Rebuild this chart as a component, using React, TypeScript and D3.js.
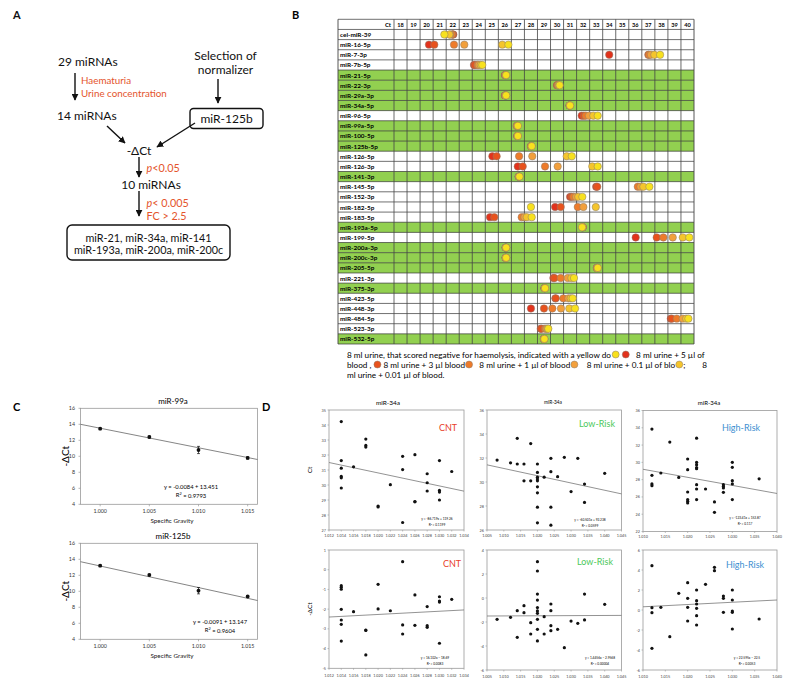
import React from 'react';
import * as d3 from 'd3';

const SANS = "Lato, 'Open Sans', 'DejaVu Sans', sans-serif";
const W = 796;
const H = 689;

// ---------------- Panel A data ----------------
const flowNodes = ['29 miRNAs', '14 miRNAs', '-ΔCt', '10 miRNAs'];
const filterStep1 = ['Haematuria', 'Urine concentration'];
const filterStep2 = ['p<0.05'];
const filterStep3 = ['p< 0.005', 'FC > 2.5'];
const normalizerHeading = ['Selection of', 'normalizer'];
const normalizerName = 'miR-125b';
const finalMirnas = ['miR-21, miR-34a, miR-141', 'miR-193a, miR-200a, miR-200c'];

// ---------------- Panel B data ----------------
const ctTicks = [18, 19, 20, 21, 22, 23, 24, 25, 26, 27, 28, 29, 30, 31, 32, 33, 34, 35, 36, 37, 38, 39, 40];
const mirnas = [
  'cel-miR-39', 'miR-16-5p', 'miR-7-3p', 'miR-7b-5p', 'miR-21-5p', 'miR-22-3p', 'miR-29a-3p', 'miR-34a-5p',
  'miR-96-5p', 'miR-99a-5p', 'miR-100-5p', 'miR-125b-5p', 'miR-126-5p', 'miR-126-3p', 'miR-141-3p', 'miR-145-5p',
  'miR-152-3p', 'miR-182-5p', 'miR-183-5p', 'miR-193a-5p', 'miR-199-5p', 'miR-200a-3p', 'miR-200c-3p', 'miR-205-5p',
  'miR-221-3p', 'miR-375-3p', 'miR-423-5p', 'miR-448-3p', 'miR-484-5p', 'miR-523-3p', 'miR-532-5p',
];
const stableMirnas = [
  'miR-21-5p', 'miR-22-3p', 'miR-29a-3p', 'miR-34a-5p', 'miR-99a-5p', 'miR-100-5p', 'miR-125b-5p', 'miR-141-3p',
  'miR-193a-5p', 'miR-200a-3p', 'miR-200c-3p', 'miR-205-5p', 'miR-375-3p', 'miR-532-5p',
];
// order: 5 µl, 3 µl, 1 µl, 0.1 µl, 0.01 µl blood, negative urine
const bloodConditions = ['5 µl', '3 µl', '1 µl', '0.1 µl', '0.01 µl', 'negative'];
const conditionColors = ['#e2321c', '#e8521d', '#ee7b2a', '#f2a03c', '#f5c52c', '#f8e11e'];
const ctByMirna = [
  [22.05, 22.0, 21.95, 21.8, 21.74, 21.36],
  [20.18, 20.59, 22.1, 22.89, 25.8, 26.27],
  [34.0, 37.0, 37.05, 37.2, 37.46, 37.9],
  [23.63, 23.7, 23.9, 24.0, 24.15, 24.27],
  [26.0, 26.02, 26.04, 26.06, 26.08, 26.1],
  [30.0, 30.02, 30.05, 30.1, 30.15, 30.2],
  [26.0, 26.02, 26.04, 26.06, 26.08, 26.1],
  [30.95, 30.96, 30.97, 30.98, 30.99, 31.0],
  [31.89, 32.05, 32.2, 32.45, 32.78, 33.12],
  [26.95, 26.95, 26.9, 26.95, 26.97, 27.0],
  [26.95, 26.96, 26.97, 26.98, 26.99, 27.0],
  [28.0, 28.01, 28.02, 28.03, 28.04, 28.06],
  [25.04, 25.37, 27.09, 28.1, 30.74, 31.13],
  [26.99, 27.37, 29.08, 30.05, 32.7, 33.12],
  [27.05, 27.06, 27.07, 27.08, 27.1, 27.12],
  [33.0, 33.08, 36.19, 36.4, 36.62, 37.08],
  [31.0, 31.1, 31.25, 31.45, 31.63, 31.94],
  [29.85, 30.28, 31.59, 32.02, 32.97, 28.0],
  [24.86, 25.19, 27.29, 27.5, 27.68, 28.06],
  [31.97, 31.97, 31.96, 31.95, 31.94, 31.92],
  [36.03, 37.64, 38.15, 38.87, 39.64, 40.14],
  [26.05, 26.06, 26.07, 26.08, 26.09, 26.1],
  [26.05, 26.06, 26.07, 26.08, 26.09, 26.1],
  [33.05, 33.06, 33.07, 33.08, 33.1, 33.12],
  [29.72, 29.8, 30.28, 30.82, 31.1, 31.3],
  [29.03, 29.04, 29.05, 29.06, 29.07, 29.08],
  [29.87, 29.9, 30.48, 30.87, 31.05, 31.2],
  [28.0, 29.0, 29.64, 30.3, 30.94, 31.38],
  [38.72, 38.8, 39.18, 39.64, 39.9, 40.07],
  [28.75, 28.8, 29.08, 29.2, 29.3, 29.33],
  [28.98, 28.99, 29.0, 29.01, 29.02, 29.03],
];
// legend: strings are text, numbers are condition colour indices
const legendLines: (string | number)[][] = [
  ['8 ml urine, that scored negative for haemolysis, indicated with a yellow do', 5, ' ', 0, '   8 ml urine + 5 µl of'],
  ['blood , ', 1, ' 8 ml urine + 3 µl blood', 2, '   8 ml urine + 1 µl of blood', 3, '    8 ml urine + 0.1 µl of blo', 4, ';        8'],
  ['ml urine + 0.01 µl of blood.'],
];

// ---------------- Panel C data ----------------
const sgLevels = [1.0, 1.005, 1.01, 1.015];
const cYTicks = [4, 6, 8, 10, 12, 14, 16];
const mir99aDct = [13.45, 12.41, 10.79, 9.8];
const mir99aErr = [0.12, 0.12, 0.45, 0.15];
const mir99aTrend = [[0.998, 14.0], [1.016, 9.6]];
const mir125bDct = [13.2, 12.04, 10.08, 9.35];
const mir125bErr = [0.12, 0.1, 0.4, 0.12];
const mir125bTrend = [[0.998, 13.7], [1.016, 8.85]];

// ---------------- Panel D data ----------------
const cntXTicks = [1.012, 1.014, 1.016, 1.018, 1.02, 1.022, 1.024, 1.026, 1.028, 1.03, 1.032, 1.034];
const lowXTicks = [1.005, 1.01, 1.015, 1.02, 1.025, 1.03, 1.035, 1.04, 1.045];
const highXTicks = [1.01, 1.015, 1.02, 1.025, 1.03, 1.035, 1.04];
const cntCtTicks = [27, 28, 29, 30, 31, 32, 33, 34, 35];
const lowCtTicks = [26, 28, 30, 32, 34, 36];
const highCtTicks = [22, 24, 26, 28, 30, 32, 34, 36];
const cntDctTicks = [-5, -4, -3, -2, -1, 0, 1];
const lowDctTicks = [-6, -4, -2, 0, 2, 4];
const highDctTicks = [-6, -4, -2, 0, 2, 4, 6];

const cntCt = [
  [1.014, 34.23], [1.014, 31.63], [1.014, 31.12], [1.014, 30.57], [1.014, 30.48], [1.014, 29.8],
  [1.016, 31.21], [1.018, 33.06], [1.018, 32.64], [1.018, 32.53], [1.02, 28.6], [1.02, 28.54],
  [1.022, 30.02], [1.024, 31.91], [1.024, 31.03], [1.024, 27.5], [1.026, 32.02], [1.026, 28.9],
  [1.026, 28.88], [1.028, 30.75], [1.028, 30.15], [1.028, 29.6], [1.03, 31.63], [1.03, 29.64],
  [1.03, 29.53], [1.03, 29.0], [1.032, 30.9],
];
const lowCt = [
  [1.008, 31.83], [1.012, 31.6], [1.014, 31.5], [1.014, 33.64], [1.016, 31.5], [1.016, 30.1],
  [1.018, 33.2], [1.018, 30.1], [1.02, 31.5], [1.02, 30.8], [1.02, 30.4], [1.02, 30.25], [1.02, 30.1],
  [1.02, 29.6], [1.02, 29.1], [1.02, 27.9], [1.02, 26.6], [1.022, 30.4], [1.024, 31.97], [1.024, 30.86],
  [1.024, 27.9], [1.024, 26.4], [1.026, 30.44], [1.028, 32.06], [1.03, 29.2], [1.032, 31.97],
  [1.034, 29.83], [1.034, 28.3], [1.04, 30.72],
];
const highCt = [
  [1.012, 33.85], [1.012, 28.5], [1.012, 27.5], [1.012, 27.3], [1.014, 28.77], [1.016, 32.35],
  [1.018, 28.26], [1.02, 30.39], [1.02, 29.15], [1.02, 26.57], [1.02, 25.69], [1.02, 25.49], [1.02, 25.3],
  [1.022, 32.8], [1.022, 30.0], [1.022, 29.73], [1.022, 29.4], [1.022, 29.27], [1.022, 27.42],
  [1.022, 26.92], [1.022, 25.69], [1.024, 26.92], [1.026, 25.42], [1.026, 24.22], [1.028, 27.42],
  [1.028, 27.22], [1.028, 27.04], [1.028, 26.53], [1.03, 30.0], [1.03, 29.42], [1.03, 27.88],
  [1.03, 27.5], [1.03, 25.69], [1.036, 28.1],
];
const cntDct = [
  [1.014, -0.81], [1.014, -0.89], [1.014, -0.99], [1.014, -2.01], [1.014, -2.55], [1.014, -2.77],
  [1.014, -3.62], [1.016, -2.13], [1.018, -3.06], [1.018, -3.08], [1.018, -4.32], [1.02, -0.74],
  [1.02, -1.99], [1.022, -2.08], [1.024, 0.41], [1.024, -2.8], [1.024, -3.26], [1.026, -1.28],
  [1.026, -2.82], [1.028, -1.87], [1.028, -2.84], [1.028, -2.92], [1.03, -1.37], [1.03, -1.59],
  [1.03, -1.64], [1.03, -3.73], [1.032, -1.5],
];
const lowDct = [
  [1.008, -1.78], [1.012, -1.61], [1.014, -3.28], [1.014, -1.06], [1.016, -0.64], [1.016, -1.22],
  [1.018, -2.06], [1.018, -3.0], [1.02, 3.03], [1.02, 2.25], [1.02, 0.33], [1.02, -0.17], [1.02, -0.8],
  [1.02, -1.08], [1.02, -1.28], [1.02, -1.78], [1.02, -2.61], [1.02, -3.58], [1.022, -1.56],
  [1.022, -3.0], [1.024, -0.5], [1.024, -1.06], [1.024, -2.31], [1.024, -2.72], [1.026, -2.61],
  [1.028, -4.14], [1.03, -1.92], [1.032, -2.11], [1.034, 0.33], [1.034, -1.83], [1.04, -0.53],
];
const highDct = [
  [1.012, 4.43], [1.012, 0.23], [1.012, -0.27], [1.012, -3.83], [1.014, 0.27], [1.016, -2.67],
  [1.018, 1.67], [1.02, 2.73], [1.02, 1.17], [1.02, 0.27], [1.02, -1.1], [1.022, 2.0], [1.022, 0.93],
  [1.022, 0.6], [1.022, 0.17], [1.022, -0.57], [1.022, -1.5], [1.024, 2.57], [1.026, 4.27],
  [1.026, 3.93], [1.028, 1.4], [1.028, 1.17], [1.028, -0.23], [1.03, 2.0], [1.03, 1.0], [1.03, -0.1],
  [1.03, -0.23], [1.03, -1.9], [1.036, -0.9],
];
const cntCtTrend = [[1.012, 31.5], [1.034, 29.59]];
const lowCtTrend = [[1.005, 31.43], [1.045, 29.01]];
const highCtTrend = [[1.01, 29.2], [1.04, 26.4]];
const cntDctTrend = [[1.012, -2.4], [1.034, -2.04]];
const lowDctTrend = [[1.005, -1.5], [1.045, -1.45]];
const highDctTrend = [[1.01, 0.32], [1.04, 1.0]];

// ---------------- helpers ----------------
let measureCtx: CanvasRenderingContext2D | null = null;
function textWidth(t: string, size: number) {
  if (typeof document === 'undefined') return t.length * size * 0.5;
  if (!measureCtx) measureCtx = document.createElement('canvas').getContext('2d');
  if (!measureCtx) return t.length * size * 0.5;
  measureCtx.font = `${size}px Lato, 'Open Sans', sans-serif`;
  return measureCtx.measureText(t).width;
}

function Arrow({ x1, y1, x2, y2 }: { x1: number; y1: number; x2: number; y2: number }) {
  return <line x1={x1} y1={y1} x2={x2} y2={y2} stroke="#111" strokeWidth={1.4} markerEnd="url(#ah)" />;
}

function crit(s: string) {
  if (s.startsWith('p')) {
    return (
      <>
        <tspan fontStyle="italic">p</tspan>
        {s.slice(1)}
      </>
    );
  }
  return s;
}

// ---------------- Panel A ----------------
function PanelA() {
  const red = '#e4542c';
  const fs = 12;
  return (
    <g fontFamily={SANS} fill="#111">
      <text x={13} y={19} fontSize={11} fontWeight="bold">A</text>
      <text x={58} y={61} fontSize={fs} dominantBaseline="central">{flowNodes[0]}</text>
      <Arrow x1={75} y1={73} x2={75} y2={100} />
      {filterStep1.map((t, i) => (
        <text key={t} x={81} y={80 + 12.5 * i} fontSize={9.8} fill={red} dominantBaseline="central">{t}</text>
      ))}
      <text x={57} y={115} fontSize={fs} dominantBaseline="central">{flowNodes[1]}</text>
      {normalizerHeading.map((t, i) => (
        <text key={t} x={225.5} y={55 + 14 * i} fontSize={fs} textAnchor="middle" dominantBaseline="central">{t}</text>
      ))}
      <Arrow x1={218} y1={79} x2={218} y2={103} />
      <rect x={190} y={108.5} width={73} height={20} rx={3.5} fill="none" stroke="#111" strokeWidth={1.4} />
      <text x={226.5} y={118.5} fontSize={fs} textAnchor="middle" dominantBaseline="central">{normalizerName}</text>
      <Arrow x1={107} y1={126} x2={125} y2={143} />
      <Arrow x1={195} y1={123} x2={157} y2={147} />
      <text x={139} y={150} fontSize={fs} textAnchor="middle" dominantBaseline="central">{flowNodes[2]}</text>
      <Arrow x1={139} y1={157} x2={139} y2={177} />
      {filterStep2.map((t) => (
        <text key={t} x={146.5} y={167} fontSize={10.8} fill={red} dominantBaseline="central">{crit(t)}</text>
      ))}
      <text x={151} y={184} fontSize={fs} textAnchor="middle" dominantBaseline="central">{flowNodes[3]}</text>
      <Arrow x1={139} y1={191} x2={139} y2={216} />
      {filterStep3.map((t, i) => (
        <text key={t} x={146.5} y={202 + 13 * i} fontSize={10.8} fill={red} dominantBaseline="central">{crit(t)}</text>
      ))}
      <rect x={67} y={225} width={163} height={35} rx={5} fill="none" stroke="#111" strokeWidth={1.4} />
      {finalMirnas.map((t, i) => (
        <text key={t} x={148.5} y={237.3 + 12.5 * i} fontSize={10.8} textAnchor="middle" dominantBaseline="central">{t}</text>
      ))}
    </g>
  );
}

// ---------------- Panel B ----------------
function PanelB() {
  const rows = ['Ct', ...mirnas];
  const y = d3.scaleBand<string>().domain(rows).range([19.3, 344]);
  const bw = y.bandwidth();
  const x = d3.scaleLinear().domain([17.5, 40.5]).range([394, 694]);
  const tableLeft = 338;
  const tableRight = x(40.5);
  const green = '#92d050';
  const vLines = [tableLeft, ...ctTicks.map((t) => x(t - 0.5)), tableRight];
  const hLines = [...rows.map((r) => y(r) as number), 344];

  // legend layout
  const baseSize = 7.5;
  const dotW = 8;
  const lineW = (line: (string | number)[], s: number) =>
    line.reduce<number>((acc, seg) => acc + (typeof seg === 'number' ? dotW : textWidth(seg, s)), 0);
  const line0 = lineW(legendLines[0], baseSize);
  const fs = Math.min(8.5, (baseSize * (358 - 2 * dotW)) / (line0 - 2 * dotW));
  const legendEls: React.ReactNode[] = [];
  legendLines.forEach((line, li) => {
    let cx = 347;
    const ly = 354.5 + li * 10;
    line.forEach((seg, si) => {
      if (typeof seg === 'number') {
        legendEls.push(
          <circle key={`l${li}-${si}`} cx={cx + dotW / 2} cy={ly} r={3.5} fill={conditionColors[seg]} stroke="#8a7a6a" strokeWidth={0.5} />
        );
        cx += dotW;
      } else {
        legendEls.push(
          <text key={`l${li}-${si}`} x={cx} y={ly} fontSize={fs} dominantBaseline="central" style={{ whiteSpace: 'pre' }} xmlSpace="preserve">{seg}</text>
        );
        cx += textWidth(seg, fs);
      }
    });
  });

  return (
    <g fontFamily={SANS}>
      <text x={292} y={19} fontSize={11} fontWeight="bold">B</text>
      {mirnas.map((m) =>
        stableMirnas.includes(m) ? (
          <rect key={m} x={tableLeft} y={y(m)} width={tableRight - tableLeft} height={bw} fill={green} />
        ) : null
      )}
      {hLines.map((yy, i) => (
        <line key={`h${i}`} x1={tableLeft} x2={tableRight} y1={yy} y2={yy} stroke="#333" strokeWidth={0.7} />
      ))}
      {vLines.map((xx, i) => (
        <line key={`v${i}`} x1={xx} x2={xx} y1={19.3} y2={344} stroke="#444" strokeWidth={i === 0 || i === vLines.length - 1 ? 0.9 : 0.8} />
      ))}
      <text x={391} y={(y('Ct') as number) + bw / 2} fontSize={6} fontWeight="bold" textAnchor="end" dominantBaseline="central">Ct</text>
      {ctTicks.map((t) => (
        <text key={t} x={x(t)} y={(y('Ct') as number) + bw / 2} fontSize={5.6} fontWeight="bold" textAnchor="middle" dominantBaseline="central">{t}</text>
      ))}
      {mirnas.map((m) => (
        <text key={m} x={340} y={(y(m) as number) + bw / 2} fontSize={6.4} fontWeight="bold" dominantBaseline="central">{m}</text>
      ))}
      {mirnas.map((m, i) =>
        ctByMirna[i].map((ct, j) => (
          <circle
            key={`${m}-${bloodConditions[j]}`}
            cx={x(ct)}
            cy={(y(m) as number) + bw / 2}
            r={3.7}
            fill={conditionColors[j]}
            stroke="#8a7a6a"
            strokeWidth={0.5}
          />
        ))
      )}
      {legendEls}
    </g>
  );
}

// ---------------- Panel C ----------------
function ChartC({ top, title, vals, errs, trend, eq, r2, eqX }: {
  top: number; title: string; vals: number[]; errs: number[]; trend: number[][]; eq: string; r2: string; eqX: number;
}) {
  const x = d3.scaleLinear().domain([0.998, 1.016]).range([80.5, 257.5]);
  const y = d3.scaleLinear().domain([4, 16]).range([top + 96, top]);
  const [x0, x1] = x.range();
  const line = d3.line<number[]>().x((d) => x(d[0])).y((d) => y(d[1]));
  const fmt = d3.format('.3f');
  return (
    <g fontFamily={SANS}>
      <text x={173} y={top - 7} fontSize={8} textAnchor="middle" dominantBaseline="central">{title}</text>
      <rect x={x0} y={top} width={x1 - x0} height={96} fill="none" stroke="#999" strokeWidth={0.8} />
      {cYTicks.map((t) => (
        <g key={t}>
          <line x1={x0 - 2} x2={x0} y1={y(t)} y2={y(t)} stroke="#999" strokeWidth={0.7} />
          <text x={75} y={y(t)} fontSize={5.3} textAnchor="end" dominantBaseline="central" fill="#333">{t}</text>
        </g>
      ))}
      {sgLevels.map((t) => (
        <g key={t}>
          <line x1={x(t)} x2={x(t)} y1={top + 96} y2={top + 98} stroke="#999" strokeWidth={0.7} />
          <text x={x(t)} y={top + 103} fontSize={5.3} textAnchor="middle" dominantBaseline="central" fill="#333">{fmt(t)}</text>
        </g>
      ))}
      <text x={172} y={top + 112.5} fontSize={6.3} textAnchor="middle" dominantBaseline="central" fill="#222">Specific Gravity</text>
      <text transform={`translate(65,${top + 48}) rotate(-90)`} fontSize={10} textAnchor="middle" dominantBaseline="central">-ΔCt</text>
      <path d={line(trend) || ''} fill="none" stroke="#666" strokeWidth={0.8} />
      {sgLevels.map((s, i) => (
        <g key={s}>
          <line x1={x(s)} x2={x(s)} y1={y(vals[i] - errs[i])} y2={y(vals[i] + errs[i])} stroke="#111" strokeWidth={0.7} />
          <line x1={x(s) - 1.5} x2={x(s) + 1.5} y1={y(vals[i] - errs[i])} y2={y(vals[i] - errs[i])} stroke="#111" strokeWidth={0.7} />
          <line x1={x(s) - 1.5} x2={x(s) + 1.5} y1={y(vals[i] + errs[i])} y2={y(vals[i] + errs[i])} stroke="#111" strokeWidth={0.7} />
          <circle cx={x(s)} cy={y(vals[i])} r={1.9} fill="#111" />
        </g>
      ))}
      <text x={eqX} y={top + 78} fontSize={5.8} textAnchor="middle" dominantBaseline="central">{eq}</text>
      <text x={eqX} y={top + 86.5} fontSize={5.8} textAnchor="middle" dominantBaseline="central">
        R<tspan fontSize={3.8} dy={-2}>2</tspan><tspan dy={2}>{' '}= {r2}</tspan>
      </text>
    </g>
  );
}

function PanelC() {
  return (
    <g>
      <text x={13} y={411} fontSize={11} fontWeight="bold" fontFamily={SANS}>C</text>
      <ChartC top={408.3} title="miR-99a" vals={mir99aDct} errs={mir99aErr} trend={mir99aTrend} eq="y = -0.0084 + 13.451" r2="0.9793" eqX={191} />
      <ChartC top={543.3} title="miR-125b" vals={mir125bDct} errs={mir125bErr} trend={mir125bTrend} eq="y = -0.0091 + 13.147" r2="0.9604" eqX={220} />
    </g>
  );
}

// ---------------- Panel D ----------------
type DProps = {
  xDomain: [number, number]; xRange: [number, number]; xTicks: number[];
  yDomain: [number, number]; yRange: [number, number]; yTicks: number[];
  pts: number[][]; trend: number[][];
  title?: string; titleSize?: number; titleX?: number;
  group: string; groupColor: string; groupPos: [number, number];
  eq: string; r2: string; eqPos: [number, number];
  yLabel?: string; xLabOff: number;
};
function ChartD(p: DProps) {
  const x = d3.scaleLinear().domain(p.xDomain).range(p.xRange);
  const y = d3.scaleLinear().domain(p.yDomain).range(p.yRange);
  const [x0, x1] = p.xRange;
  const [yb, yt] = p.yRange;
  const line = d3.line<number[]>().x((d) => x(d[0])).y((d) => y(d[1]));
  const fmt = d3.format('.3f');
  return (
    <g fontFamily={SANS}>
      {p.title ? (
        <text x={p.titleX} y={yt - 8} fontSize={p.titleSize} textAnchor="middle" dominantBaseline="central">{p.title}</text>
      ) : null}
      <rect x={x0} y={yt} width={x1 - x0} height={yb - yt} fill="none" stroke="#999" strokeWidth={0.8} />
      {p.yTicks.map((t) => (
        <g key={t}>
          <line x1={x0 - 1.5} x2={x0} y1={y(t)} y2={y(t)} stroke="#999" strokeWidth={0.6} />
          <text x={x0 - 3} y={y(t)} fontSize={3.8} textAnchor="end" dominantBaseline="central" fill="#444">{t}</text>
        </g>
      ))}
      {p.xTicks.map((t) => (
        <g key={t}>
          <line x1={x(t)} x2={x(t)} y1={yb} y2={yb + 1.5} stroke="#999" strokeWidth={0.6} />
          <text x={x(t)} y={yb + p.xLabOff} fontSize={3.8} textAnchor="middle" dominantBaseline="central" fill="#444">{fmt(t)}</text>
        </g>
      ))}
      {p.yLabel ? (
        <text transform={`translate(${x0 - 20},${(yb + yt) / 2}) rotate(-90)`} fontSize={6.5} textAnchor="middle" dominantBaseline="central">{p.yLabel}</text>
      ) : null}
      <path d={line(p.trend) || ''} fill="none" stroke="#777" strokeWidth={0.8} />
      {p.pts.map((d, i) => (
        <circle key={i} cx={x(d[0])} cy={y(d[1])} r={1.6} fill="#111" />
      ))}
      <text x={p.groupPos[0]} y={p.groupPos[1]} fontSize={9} fill={p.groupColor} textAnchor="middle" dominantBaseline="central">{p.group}</text>
      <text x={p.eqPos[0]} y={p.eqPos[1]} fontSize={3.2} textAnchor="middle" dominantBaseline="central">{p.eq}</text>
      <text x={p.eqPos[0]} y={p.eqPos[1] + 5.5} fontSize={3.2} textAnchor="middle" dominantBaseline="central">R² = {p.r2}</text>
    </g>
  );
}

function PanelD() {
  const cnt = '#e8402a';
  const low = '#4cc85a';
  const high = '#3d8fd1';
  return (
    <g>
      <text x={262} y={411} fontSize={11} fontWeight="bold" fontFamily={SANS}>D</text>
      <ChartD xDomain={[1.012, 1.034]} xRange={[329, 464]} xTicks={cntXTicks} yDomain={[27, 35]} yRange={[530, 410]} yTicks={cntCtTicks}
        pts={cntCt} trend={cntCtTrend} title="miR-34a" titleSize={6.5} titleX={388} group="CNT" groupColor={cnt} groupPos={[448, 427]}
        eq="y = -86.719x + 119.26" r2="0.1199" eqPos={[437, 519]} yLabel="Ct" xLabOff={5} />
      <ChartD xDomain={[1.005, 1.045]} xRange={[487, 621.5]} xTicks={lowXTicks} yDomain={[26, 36]} yRange={[530, 410]} yTicks={lowCtTicks}
        pts={lowCt} trend={lowCtTrend} title="miR-34a" titleSize={4.8} titleX={553} group="Low-Risk" groupColor={low} groupPos={[597, 423]}
        eq="y = -60.501x + 92.238" r2="0.0599" eqPos={[590, 520]} xLabOff={5} />
      <ChartD xDomain={[1.01, 1.04]} xRange={[643, 777]} xTicks={highXTicks} yDomain={[22, 36]} yRange={[531.5, 410.5]} yTicks={highCtTicks}
        pts={highCt} trend={highCtTrend} title="miR-34a" titleSize={6} titleX={709} group="High-Risk" groupColor={high} groupPos={[741, 427]}
        eq="y = -123.41x + 153.87" r2="0.117" eqPos={[745, 518]} xLabOff={5} />
      <ChartD xDomain={[1.012, 1.034]} xRange={[329, 464]} xTicks={cntXTicks} yDomain={[-5, 1]} yRange={[668.3, 550]} yTicks={cntDctTicks}
        pts={cntDct} trend={cntDctTrend} group="CNT" groupColor={cnt} groupPos={[452, 563]}
        eq="y = 16.102x − 18.69" r2="0.0083" eqPos={[435, 658]} yLabel="-ΔCt" xLabOff={7} />
      <ChartD xDomain={[1.005, 1.045]} xRange={[487, 621.5]} xTicks={lowXTicks} yDomain={[-6, 4]} yRange={[670, 550]} yTicks={lowDctTicks}
        pts={lowDct} trend={lowDctTrend} group="Low-Risk" groupColor={low} groupPos={[595, 561]}
        eq="y = 1.4456x − 2.9568" r2="0.00004" eqPos={[600, 658]} xLabOff={6} />
      <ChartD xDomain={[1.01, 1.04]} xRange={[643, 777]} xTicks={highXTicks} yDomain={[-6, 6]} yRange={[670, 550]} yTicks={highDctTicks}
        pts={highDct} trend={highDctTrend} group="High-Risk" groupColor={high} groupPos={[745, 564]}
        eq="y = 22.595x − 22.5" r2="0.0053" eqPos={[747, 658]} xLabOff={6} />
    </g>
  );
}

export default function App() {
  return (
    <div style={{ position: 'absolute', left: 0, top: 0, width: W, height: H, background: '#fff' }}>
      <svg width={W} height={H} viewBox={`0 0 ${W} ${H}`} style={{ display: 'block' }}>
        <defs>
          <marker id="ah" viewBox="0 0 10 10" refX={9} refY={5} markerWidth={7} markerHeight={7} markerUnits="userSpaceOnUse" orient="auto">
            <path d="M0,0 L10,5 L0,10 z" fill="#111" />
          </marker>
        </defs>
        <rect width={W} height={H} fill="#fff" />
        <PanelA />
        <PanelB />
        <PanelC />
        <PanelD />
      </svg>
    </div>
  );
}
